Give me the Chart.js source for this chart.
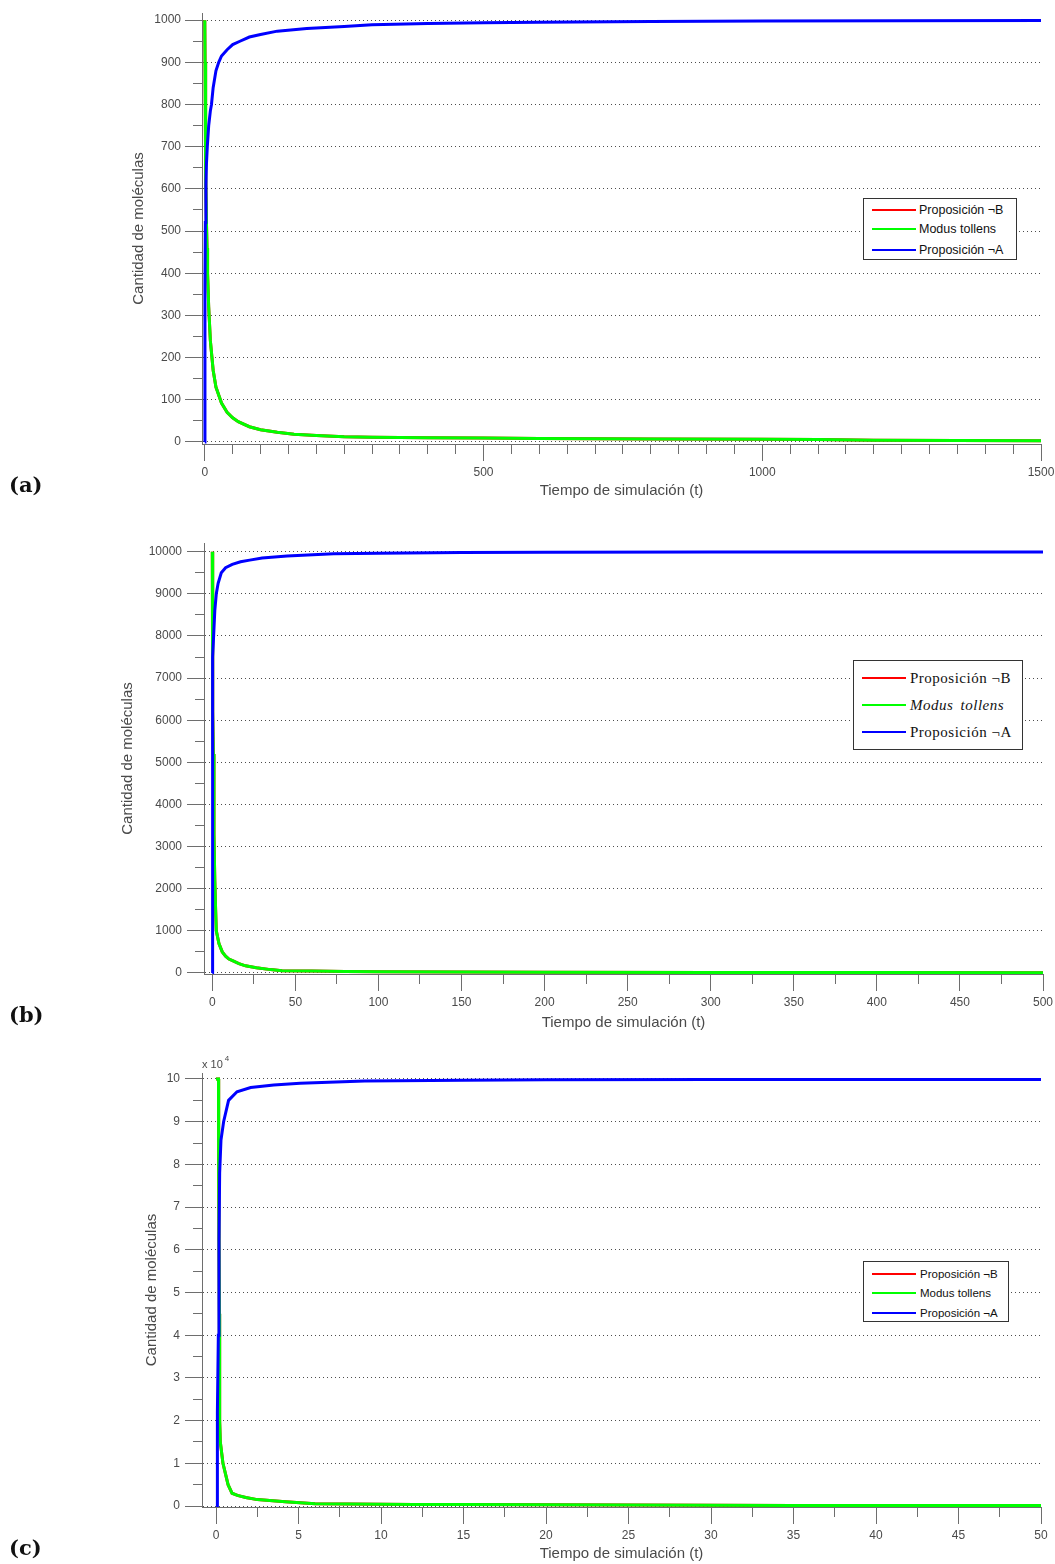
<!DOCTYPE html>
<html>
<head>
<meta charset="utf-8">
<script src="https://cdn.jsdelivr.net/npm/chart.js@4.4.1/dist/chart.umd.min.js"></script>
<style>
  html, body { margin: 0; padding: 0; background: #fff; }
  body { width: 1055px; height: 1564px; position: relative; overflow: hidden; }
  canvas { position: absolute; left: 0; }
  .tag { position: absolute; left: 9px; height: 24px; line-height: 24px;
         font-family: "DejaVu Serif", serif; font-weight: bold; font-size: 21px; color: #111; }
  .legend { position: absolute; background: #fff; border: 1px solid #333; box-sizing: border-box; }
  .legend .swatch { position: absolute; height: 2px; }
  .legend .lbl { position: absolute; white-space: nowrap; transform: translateY(-50%); color: #111; }
</style>
</head>
<body>
<canvas id="chartA" width="1055" height="505" style="top:0px"></canvas>
<canvas id="chartB" width="1055" height="505" style="top:530px"></canvas>
<canvas id="chartC" width="1055" height="519" style="top:1045px"></canvas>
<div class="tag" style="top:473px">(a)</div>
<div class="tag" style="top:1003px">(b)</div>
<div class="tag" style="top:1536px">(c)</div>

<script>
// Series names and colours
const seriesLabels = ['Proposición ¬B', 'Modus tollens', 'Proposición ¬A'];
const seriesColors = ['#ff0000', '#00ff00', '#0000ff'];

// ---------- (a) 1 000 molecules ----------
const timeA_tollens = [0, 0.5, 1, 2, 3, 4, 5, 7, 10, 15, 20, 30, 40, 50, 60, 80, 100, 130, 160, 200, 250, 300, 400, 500, 600, 800, 1000, 1100, 1200, 1500];
const tollensA      = [1000, 900, 810, 640, 520, 460, 400, 320, 240, 170, 130, 92, 70, 57, 48, 36, 29, 23, 18, 15, 12, 11, 10, 9, 8, 7, 6, 5.5, 4, 3];
const negBA         = [1000, 900, 810, 640, 520, 460, 400, 320, 240, 170, 130, 92, 70, 57, 48, 36, 29, 23, 18, 15, 12, 11, 10, 9, 8, 7, 6, 5.5, 4, 3];
const timeA_negA    = [0, 0.3, 1, 2, 3, 4.5, 7, 10, 12, 15, 20, 25, 30, 40, 50, 63, 80, 100, 130, 183, 250, 300, 400, 500, 600, 800, 1000, 1500];
const negAA         = [0, 370, 520, 610, 660, 700, 750, 785, 800, 840, 880, 900, 915, 930, 942, 950, 960, 966, 974, 980, 985, 989, 992, 994, 995, 997, 998, 999];
const xMajorA = [0, 500, 1000, 1500];
const yMajorA = [0, 100, 200, 300, 400, 500, 600, 700, 800, 900, 1000];

// ---------- (b) 10 000 molecules ----------
const timeB_tollens = [0, 0.1, 0.2, 0.4, 0.6, 1, 1.5, 2, 2.4, 4, 6, 8, 10, 12.5, 16, 20, 26.5, 35, 42, 60, 80, 100, 150, 200, 300, 400, 500];
const tollensB      = [10000, 8800, 7600, 6200, 5200, 3300, 2200, 1500, 1000, 700, 500, 400, 330, 285, 220, 170, 126, 80, 55, 45, 36, 31, 24, 18, 13, 10, 8];
const negBB         = [10000, 8800, 7600, 6200, 5200, 3300, 2200, 1500, 1000, 700, 500, 400, 330, 285, 220, 170, 126, 80, 55, 45, 36, 31, 24, 18, 13, 10, 8];
const timeB_negA    = [0, 0.05, 0.1, 0.4, 0.8, 1.5, 2.4, 3.5, 5.4, 8, 12, 17, 22.5, 30, 45, 73, 100, 150, 200, 300, 400, 500];
const negAB         = [0, 3000, 6200, 7500, 8000, 8600, 9000, 9250, 9500, 9620, 9700, 9760, 9800, 9850, 9900, 9950, 9965, 9978, 9985, 9990, 9993, 9995];
const xMajorB = [0, 50, 100, 150, 200, 250, 300, 350, 400, 450, 500];
const yMajorB = [0, 1000, 2000, 3000, 4000, 5000, 6000, 7000, 8000, 9000, 10000];

// ---------- (c) 100 000 molecules ----------
const timeC_tollens = [0, 0.15, 0.16, 0.2, 0.22, 0.26, 0.42, 0.73, 0.97, 1.3, 1.8, 2.5, 4.2, 6, 8, 12, 15, 20, 25, 35, 50];
const tollensC      = [100000, 100000, 79000, 45000, 20000, 15000, 10000, 5000, 3000, 2500, 2000, 1500, 1000, 550, 450, 380, 330, 280, 250, 150, 100];
const negBC         = [100000, 100000, 79000, 45000, 20000, 15000, 10000, 5000, 3000, 2500, 2000, 1500, 1000, 550, 450, 380, 330, 280, 250, 150, 100];
const timeC_negA    = [0, 0.06, 0.065, 0.1, 0.14, 0.18, 0.22, 0.3, 0.46, 0.76, 1.27, 2.1, 3.5, 5.1, 9, 15, 20, 30, 50];
const negAC         = [0, 0, 14000, 22000, 40000, 62000, 78000, 85700, 90000, 95000, 97000, 98000, 98600, 99000, 99500, 99700, 99800, 99850, 99900];
const xMajorC = [0, 5, 10, 15, 20, 25, 30, 35, 40, 45, 50];
const yMajorC = [0, 10000, 20000, 30000, 40000, 50000, 60000, 70000, 80000, 90000, 100000];

// ---------- helpers ----------
Chart.defaults.font.family = '"Liberation Sans", Arial, sans-serif';
const AXIS_GRAY = '#6e6e6e';
const TEXT_GRAY = '#4a4a4a';

function toPoints(ts, vs) { return ts.map((t, i) => ({ x: t, y: vs[i] })); }

// Major positions plus the in-between minor positions
function withMinor(majors, minorStep) {
  const out = [];
  const first = majors[0], last = majors[majors.length - 1];
  const n = Math.round((last - first) / minorStep);
  for (let k = 0; k <= n; k++) out.push(+(first + k * minorStep).toFixed(6));
  return out;
}
const isIn = (arr, v) => arr.some(m => Math.abs(m - v) < 1e-9);

// "x 10^n" factor above the y axis
const exponentLabel = {
  id: 'exponentLabel',
  afterDraw(chart, args, opts) {
    if (!opts || !opts.exp) return;
    const { ctx, chartArea } = chart;
    ctx.save();
    ctx.fillStyle = TEXT_GRAY;
    ctx.textBaseline = 'alphabetic';
    ctx.textAlign = 'left';
    ctx.font = '11px "Liberation Sans", Arial, sans-serif';
    const base = 'x 10';
    ctx.fillText(base, chartArea.left, chartArea.top - 5);
    const w = ctx.measureText(base).width;
    ctx.font = '8px "Liberation Sans", Arial, sans-serif';
    ctx.fillText(opts.exp, chartArea.left + w + 2, chartArea.top - 12);
    ctx.restore();
  }
};
Chart.register(exponentLabel);

function makeChart(id, p) {
  const canvas = document.getElementById(id);
  const xAll = withMinor(p.xMajor, p.xMinorStep);
  const yAll = withMinor(p.yMajor, p.yMinorStep);
  return new Chart(canvas, {
    type: 'line',
    data: {
      datasets: [
        { label: seriesLabels[0], data: toPoints(p.tRed, p.red),   borderColor: seriesColors[0], order: 2 },
        { label: seriesLabels[1], data: toPoints(p.tGreen, p.green), borderColor: seriesColors[1], order: 1 },
        { label: seriesLabels[2], data: toPoints(p.tBlue, p.blue), borderColor: seriesColors[2], order: 0 }
      ]
    },
    options: {
      responsive: false,
      animation: false,
      events: [],
      elements: {
        line: { borderWidth: 3, tension: 0, fill: false, borderCapStyle: 'butt' },
        point: { radius: 0 }
      },
      layout: { padding: { left: 0, top: p.top, right: canvas.width - p.right, bottom: 0 } },
      plugins: {
        legend: { display: false },
        tooltip: { enabled: false },
        exponentLabel: { exp: p.exp || null }
      },
      scales: {
        x: {
          type: 'linear',
          min: p.xMin, max: p.xMax,
          afterBuildTicks: s => { s.ticks = xAll.map(v => ({ value: v })); },
          afterFit: s => { s.height = canvas.height - p.bottom; s.paddingLeft = 0; s.paddingRight = 0; },
          border: { display: true, color: AXIS_GRAY, width: 1 },
          grid: {
            drawOnChartArea: false,
            drawTicks: true,
            tickLength: 17,
            tickWidth: 1,
            tickColor: AXIS_GRAY,
            // minor ticks: only the 9px next to the axis line
            tickBorderDash: c => (c.tick && !isIn(p.xMajor, c.tick.value)) ? [9, 100] : []
          },
          ticks: {
            autoSkip: false, maxRotation: 0, padding: 4,
            color: TEXT_GRAY, font: { size: 12 },
            callback: v => isIn(p.xMajor, v) ? String(v) : ''
          },
          title: {
            display: true, text: 'Tiempo de simulación (t)',
            color: TEXT_GRAY, font: { size: 15 },
            padding: { top: 0, bottom: p.xTitlePad }
          }
        },
        y: {
          type: 'linear',
          min: p.yMin, max: p.yMax,
          afterBuildTicks: s => { s.ticks = yAll.map(v => ({ value: v })); },
          afterFit: s => { s.width = p.left; s.paddingTop = 0; s.paddingBottom = 0; },
          border: { display: true, color: AXIS_GRAY, width: 1, dash: [1, 3] },
          grid: {
            drawOnChartArea: true,
            drawTicks: true,
            color: c => (c.tick && isIn(p.yMajor, c.tick.value)) ? '#4d4d4d' : 'rgba(0,0,0,0)',
            lineWidth: 1,
            tickLength: 17,
            tickWidth: 1,
            tickColor: AXIS_GRAY,
            // y tick strokes run from the outer end toward the axis: skip the outer 8px for minor ticks
            tickBorderDash: c => (c.tick && !isIn(p.yMajor, c.tick.value)) ? [0, 8, 9, 100] : []
          },
          ticks: {
            autoSkip: false, padding: p.yTickPad,
            color: TEXT_GRAY, font: { size: 12 },
            callback: v => isIn(p.yMajor, v) ? String(p.yScaleDiv ? v / p.yScaleDiv : v) : ''
          },
          title: {
            display: true, text: 'Cantidad de moléculas',
            color: TEXT_GRAY, font: { size: 15 },
            padding: { top: p.yTitleX - 9, bottom: 0 }
          }
        }
      }
    }
  });
}

// Legend box drawn next to each chart from its datasets
function makeLegend(chart, pageTop, g) {
  const box = document.createElement('div');
  box.className = 'legend';
  Object.assign(box.style, {
    left: g.left + 'px', top: (pageTop + g.top) + 'px',
    width: g.width + 'px', height: g.height + 'px'
  });
  chart.data.datasets.forEach((ds, i) => {
    const sw = document.createElement('div');
    sw.className = 'swatch';
    Object.assign(sw.style, {
      left: g.lineX0 + 'px', width: (g.lineX1 - g.lineX0) + 'px',
      top: (g.rows[i] - 1) + 'px', background: ds.borderColor
    });
    const lb = document.createElement('div');
    lb.className = 'lbl';
    lb.textContent = ds.label;
    Object.assign(lb.style, {
      left: g.textX + 'px', top: g.rows[i] + 'px', font: g.font,
      letterSpacing: g.spacing || 'normal'
    });
    if (g.italicIndex === i) { lb.style.fontStyle = 'italic'; lb.style.wordSpacing = '3px'; }
    box.appendChild(sw);
    box.appendChild(lb);
  });
  document.body.appendChild(box);
}

const chartA = makeChart('chartA', {
  tRed: timeA_tollens, red: negBA, tGreen: timeA_tollens, green: tollensA, tBlue: timeA_negA, blue: negAA,
  xMajor: xMajorA, xMinorStep: 50, yMajor: yMajorA, yMinorStep: 50,
  xMin: -5, xMax: 1500, yMin: -5, yMax: 1017,
  left: 202, right: 1041, top: 13, bottom: 444,
  xTitlePad: 5.5, yTitleX: 139, yTickPad: 4
});
const chartB = makeChart('chartB', {
  tRed: timeB_tollens, red: negBB, tGreen: timeB_tollens, green: tollensB, tBlue: timeB_negA, blue: negAB,
  xMajor: xMajorB, xMinorStep: 25, yMajor: yMajorB, yMinorStep: 500,
  xMin: -5, xMax: 500, yMin: -24, yMax: 10206,
  left: 204, right: 1043, top: 13, bottom: 444,
  xTitlePad: 3.5, yTitleX: 128, yTickPad: 5
});
const chartC = makeChart('chartC', {
  tRed: timeC_tollens, red: negBC, tGreen: timeC_tollens, green: tollensC, tBlue: timeC_negA, blue: negAC,
  xMajor: xMajorC, xMinorStep: 2.5, yMajor: yMajorC, yMinorStep: 5000,
  xMin: -0.85, xMax: 50, yMin: -230, yMax: 101400,
  left: 202, right: 1041, top: 28, bottom: 462,
  xTitlePad: 1.5, yTitleX: 152, yTickPad: 5, yScaleDiv: 10000, exp: '4'
});

makeLegend(chartA, 0, {
  left: 863, top: 198, width: 154, height: 62, rows: [10.5, 30, 50.5],
  lineX0: 8, lineX1: 52, textX: 55, font: '12.5px "Liberation Sans", Arial, sans-serif'
});
makeLegend(chartB, 530, {
  left: 853, top: 130, width: 170, height: 90, rows: [16.5, 44, 71],
  lineX0: 8, lineX1: 52, textX: 56, font: '15px "Liberation Serif", "Times New Roman", serif',
  spacing: '0.5px', italicIndex: 1
});
makeLegend(chartC, 1045, {
  left: 863, top: 216, width: 146, height: 61, rows: [11.5, 31, 50.5],
  lineX0: 8, lineX1: 52, textX: 56, font: '11.5px "Liberation Sans", Arial, sans-serif'
});
</script>
</body>
</html>
